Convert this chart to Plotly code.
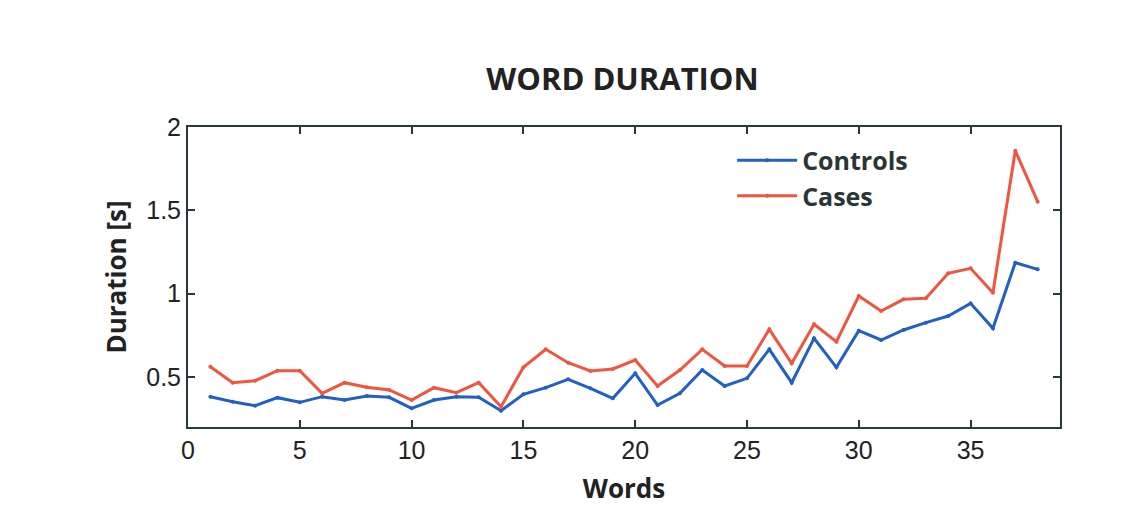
import plotly.graph_objects as go

words = list(range(1, 39))
controls = [0.382, 0.352, 0.328, 0.376, 0.348, 0.382, 0.362, 0.386, 0.378, 0.312,
            0.362, 0.382, 0.378, 0.298, 0.396, 0.436, 0.486, 0.432, 0.372, 0.522,
            0.332, 0.402, 0.542, 0.446, 0.492, 0.666, 0.466, 0.732, 0.558, 0.778,
            0.722, 0.782, 0.826, 0.866, 0.942, 0.792, 1.186, 1.146]
cases = [0.562, 0.466, 0.478, 0.538, 0.538, 0.402, 0.466, 0.438, 0.422, 0.362,
         0.436, 0.406, 0.466, 0.322, 0.558, 0.666, 0.586, 0.536, 0.548, 0.602,
         0.446, 0.542, 0.666, 0.566, 0.566, 0.786, 0.582, 0.816, 0.712, 0.986,
         0.896, 0.966, 0.972, 1.122, 1.152, 1.006, 1.858, 1.552]

blue = "#2160c4"
red = "#f2553f"
dark = "#263a3a"

fig = go.Figure()
fig.add_trace(go.Scatter(x=words, y=controls, name="<b>Controls</b>", mode="lines+markers",
                         line=dict(color=blue, width=3), marker=dict(size=4, color=blue)))
fig.add_trace(go.Scatter(x=words, y=cases, name="<b>Cases</b>", mode="lines+markers",
                         line=dict(color=red, width=3), marker=dict(size=4, color=red)))

axis_font = dict(family="Liberation Sans", size=25, color="#222")
title_font = dict(family="Open Sans", size=26, color="#222")

fig.update_layout(
    width=1138, height=508,
    margin=dict(l=180, r=86, t=119, b=89),
    paper_bgcolor="white", plot_bgcolor="white",
    title=dict(text="<b>WORD DURATION</b>", x=0.54, xanchor="center", y=0.86, yanchor="middle",
               font=dict(family="Open Sans", size=31, color="#222")),
    legend=dict(x=0.624, y=0.965, xanchor="left", yanchor="top", bgcolor="rgba(0,0,0,0)",
                font=dict(family="Open Sans", size=25, color="#2a3535"),
                itemwidth=60, tracegroupgap=0),
)
fig.update_xaxes(range=[0, 39], tickvals=[0, 5, 10, 15, 20, 25, 30, 35],
                 ticks="inside", ticklen=7, tickwidth=2, tickcolor=dark,
                 showline=True, linecolor=dark, linewidth=2, mirror="ticks",
                 showgrid=False, zeroline=False, tickfont=axis_font,
                 title=dict(text="<b>Words</b>", font=title_font, standoff=17))
fig.update_yaxes(range=[0.2, 2], tickvals=[0.5, 1, 1.5, 2], ticktext=["0.5", "1", "1.5", "2"],
                 ticks="inside", ticklen=7, tickwidth=2, tickcolor=dark,
                 showline=True, linecolor=dark, linewidth=2, mirror="ticks",
                 showgrid=False, zeroline=False, tickfont=axis_font,
                 title=dict(text="<b>Duration [s]</b>", font=title_font, standoff=12))

fig.write_html("out.html")
